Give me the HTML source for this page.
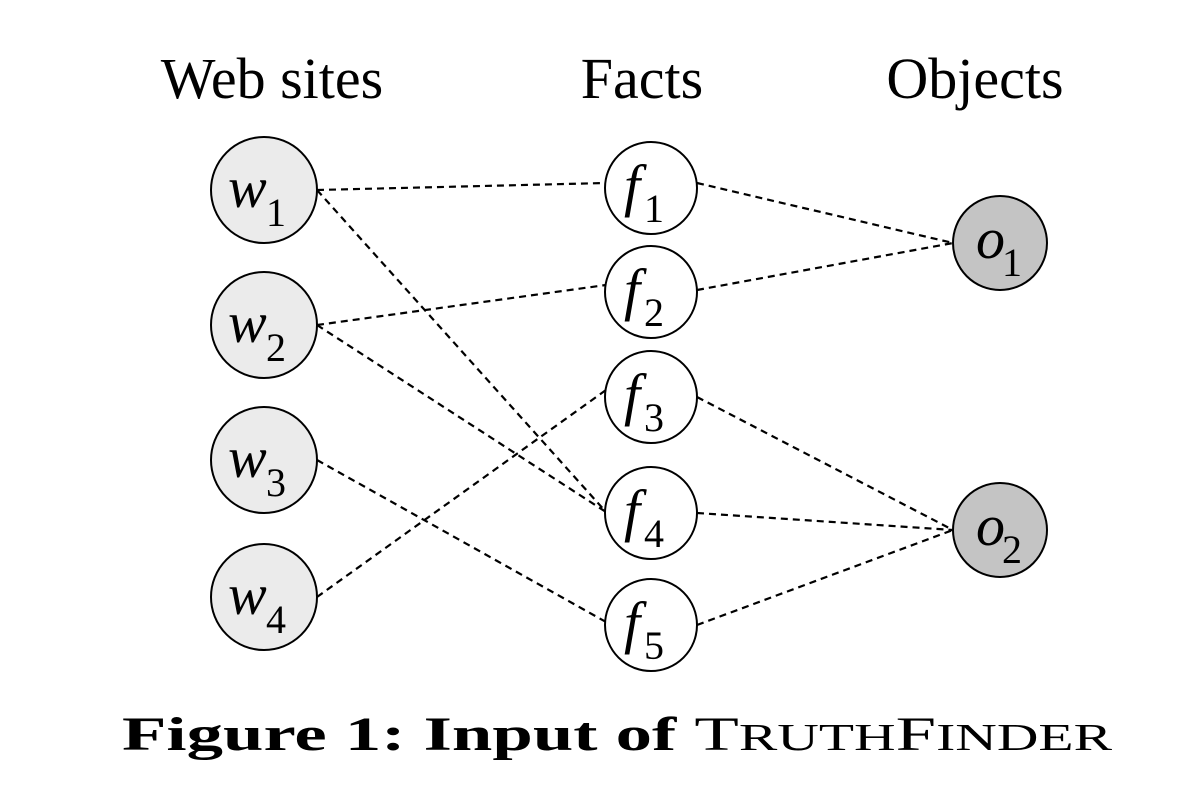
<!DOCTYPE html>
<html><head><style>
html,body{margin:0;padding:0;background:#fff;}
svg{display:block;}
</style></head><body>
<svg width="1184" height="788" viewBox="0 0 1184 788" xmlns="http://www.w3.org/2000/svg" font-family="Liberation Serif, serif">
<rect width="1184" height="788" fill="#fff"/>
<g fill="#000" font-size="58">
<text x="272" y="98" text-anchor="middle">Web sites</text>
<text x="642" y="98" text-anchor="middle">Facts</text>
<text x="975" y="98" text-anchor="middle">Objects</text>
</g>
<g stroke="#000" stroke-width="2.2" stroke-dasharray="7,5" fill="none">
<line x1="317" y1="190" x2="606" y2="183"/>
<line x1="317" y1="190" x2="606" y2="512"/>
<line x1="317" y1="325" x2="606" y2="285"/>
<line x1="317" y1="325" x2="606" y2="512"/>
<line x1="317" y1="460" x2="606" y2="622"/>
<line x1="317" y1="597" x2="606" y2="390"/>
<line x1="697" y1="183" x2="953" y2="243"/>
<line x1="697" y1="290" x2="953" y2="243"/>
<line x1="697" y1="397" x2="953" y2="530"/>
<line x1="697" y1="513" x2="953" y2="530"/>
<line x1="697" y1="625" x2="953" y2="530"/>
</g>
<g stroke="#000" stroke-width="2" fill="#ebebeb">
<circle cx="264" cy="190" r="53"/>
<circle cx="264" cy="325" r="53"/>
<circle cx="264" cy="460" r="53"/>
<circle cx="264" cy="597" r="53"/>
</g>
<g stroke="#000" stroke-width="2" fill="#fff">
<circle cx="651" cy="188" r="46"/>
<circle cx="651" cy="292" r="46"/>
<circle cx="651" cy="397" r="46"/>
<circle cx="651" cy="513" r="46"/>
<circle cx="651" cy="625" r="46"/>
</g>
<g stroke="#000" stroke-width="2" fill="#c4c4c4">
<circle cx="1000" cy="243" r="47"/>
<circle cx="1000" cy="530" r="47"/>
</g>
<g fill="#000" font-size="58">
<text x="228" y="207" font-style="italic">w</text><text x="266" y="226" font-size="40">1</text>
<text x="228" y="342" font-style="italic">w</text><text x="266" y="361" font-size="40">2</text>
<text x="228" y="477" font-style="italic">w</text><text x="266" y="496" font-size="40">3</text>
<text x="228" y="614" font-style="italic">w</text><text x="266" y="633" font-size="40">4</text>
<text x="624" y="205" font-style="italic">f</text><text x="644" y="222" font-size="40">1</text>
<text x="624" y="309" font-style="italic">f</text><text x="644" y="326" font-size="40">2</text>
<text x="624" y="414" font-style="italic">f</text><text x="644" y="431" font-size="40">3</text>
<text x="624" y="530" font-style="italic">f</text><text x="644" y="547" font-size="40">4</text>
<text x="624" y="642" font-style="italic">f</text><text x="644" y="659" font-size="40">5</text>
<text x="976" y="258" font-style="italic">o</text><text x="1002" y="276" font-size="40">1</text>
<text x="976" y="545" font-style="italic">o</text><text x="1002" y="563" font-size="40">2</text>
</g>
<text x="122" y="750" font-size="48" fill="#000" textLength="990" lengthAdjust="spacingAndGlyphs"><tspan font-weight="bold">Figure 1:  Input of </tspan><tspan>T</tspan><tspan font-size="38">RUTH</tspan><tspan>F</tspan><tspan font-size="38">INDER</tspan></text>
</svg>
</body></html>
